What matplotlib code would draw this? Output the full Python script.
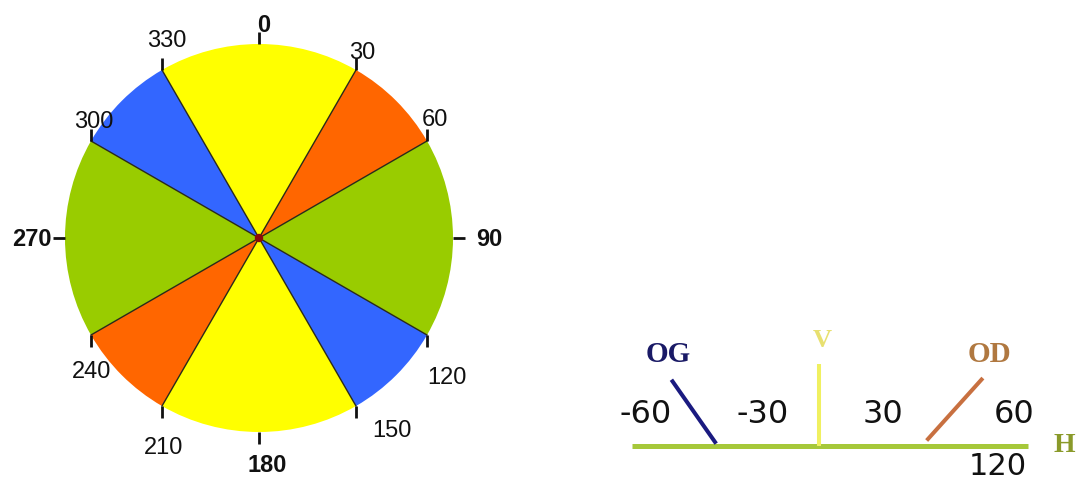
import numpy as np
import matplotlib.pyplot as plt
from matplotlib.patches import Wedge, Circle

# colour wheel, bearings in degrees clockwise from the top
sector_start = [330, 30, 60, 120, 150, 210, 240, 300]
sector_end = [30, 60, 120, 150, 210, 240, 300, 330]
sector_colors = ["#ffff00", "#ff6600", "#99cc00", "#3366ff",
                 "#ffff00", "#ff6600", "#99cc00", "#3366ff"]
divider_bearings = [30, 60, 120, 150]   # drawn as full diameters
tick_bearings = [0, 30, 60, 90, 120, 150, 180, 210, 240, 270, 300, 330]
tick_labels = ["0", "30", "60", "90", "120", "150", "180",
               "210", "240", "270", "300", "330"]
bold_bearings = [0, 90, 180, 270]

# right-hand scheme: tilt of each eye line, degrees from vertical
og_tilt = -35
od_tilt = 42
scale_labels = ["-60", "-30", "30", "60"]
bottom_label = "120"

# layout (pixels, y grows downwards)
CX, CY, R = 259, 239, 194
TICK = 12
# label offset from the end of each tick
label_offset = [(5, -8), (6, -6), (8, -10), (24, 1), (20, 30), (36, 12),
                (8, 21), (2, 29), (1, 24), (-21, 1), (3, -8), (5, -18)]

BASE_X, BASE_Y = 819, 447          # foot of the V line
H_LEFT, H_RIGHT = 632, 1028
scale_x = [646, 763, 883, 1014]
scale_y = 415


def on_circle(bearing, r):
    b = np.radians(bearing)
    return CX + r * np.sin(b), CY - r * np.cos(b)


fig = plt.figure(figsize=(10.8, 4.85), dpi=100)
ax = fig.add_axes([0, 0, 1, 1])
ax.set_xlim(0, 1080)
ax.set_ylim(485, 0)
ax.axis("off")

# sectors (theta = bearing - 90 because the y axis is flipped)
for b1, b2, col in zip(sector_start, sector_end, sector_colors):
    t1 = b1 - 90
    t2 = b2 - 90
    if t2 <= t1:
        t2 += 360
    ax.add_patch(Wedge((CX, CY), R, t1, t2, facecolor=col, edgecolor="none"))

for b in divider_bearings:
    x1, y1 = on_circle(b, R)
    x2, y2 = on_circle(b + 180, R)
    ax.plot([x1, x2], [y1, y2], color="#2a2a1a", lw=1.0)

ax.add_patch(Circle((CX, CY), 3.5, color="#8b0a0a", zorder=5))

# ticks and labels
for b, lab, (dx, dy) in zip(tick_bearings, tick_labels, label_offset):
    px, py = on_circle(b, R)
    if b == 90:
        ex, ey = px + TICK, py
    elif b == 270:
        ex, ey = px - TICK, py
    elif np.cos(np.radians(b)) > 0:
        ex, ey = px, py - TICK
    else:
        ex, ey = px, py + TICK
    ax.plot([px, ex], [py, ey], color="#111111", lw=2.0, solid_capstyle="butt")
    weight = "bold" if b in bold_bearings else "normal"
    ax.text(ex + dx, ey + dy, lab, ha="center", va="center",
            fontsize=17, fontweight=weight, family="Liberation Sans",
            color="#111111")

# right-hand scheme
ax.plot([H_LEFT, H_RIGHT], [BASE_Y, BASE_Y], color="#a6c83a", lw=3.6,
        solid_capstyle="butt")
ax.plot([BASE_X, BASE_X], [BASE_Y, 365], color="#f0f060", lw=2.9,
        solid_capstyle="butt")

og_len, od_len = 74, 80
og_foot = (715, 443)
od_foot = (928, 440)
t = np.radians(og_tilt)
ax.plot([og_foot[0], og_foot[0] + og_len * np.sin(t)],
        [og_foot[1], og_foot[1] - og_len * np.cos(t)],
        color="#1a1a80", lw=2.9)
t = np.radians(od_tilt)
ax.plot([od_foot[0], od_foot[0] + od_len * np.sin(t)],
        [od_foot[1], od_foot[1] - od_len * np.cos(t)],
        color="#c87040", lw=2.9)

for x, lab in zip(scale_x, scale_labels):
    ax.text(x, scale_y, lab, ha="center", va="center", fontsize=23,
            family="DejaVu Sans", color="#111111")
ax.text(998, 467, bottom_label, ha="center", va="center", fontsize=22,
        family="DejaVu Sans", color="#111111")

serif = dict(family="Liberation Serif", fontweight="bold", ha="center",
             va="center")
ax.text(668, 355, "OG", fontsize=21, color="#1a1a66", **serif)
ax.text(822, 341, "V", fontsize=19, color="#e8e070", **serif)
ax.text(989, 355, "OD", fontsize=21, color="#b07840", **serif)
ax.text(1064, 446, "H", fontsize=20, color="#8a9a2a", **serif)

fig.savefig("out.png", dpi=100, facecolor="white")
